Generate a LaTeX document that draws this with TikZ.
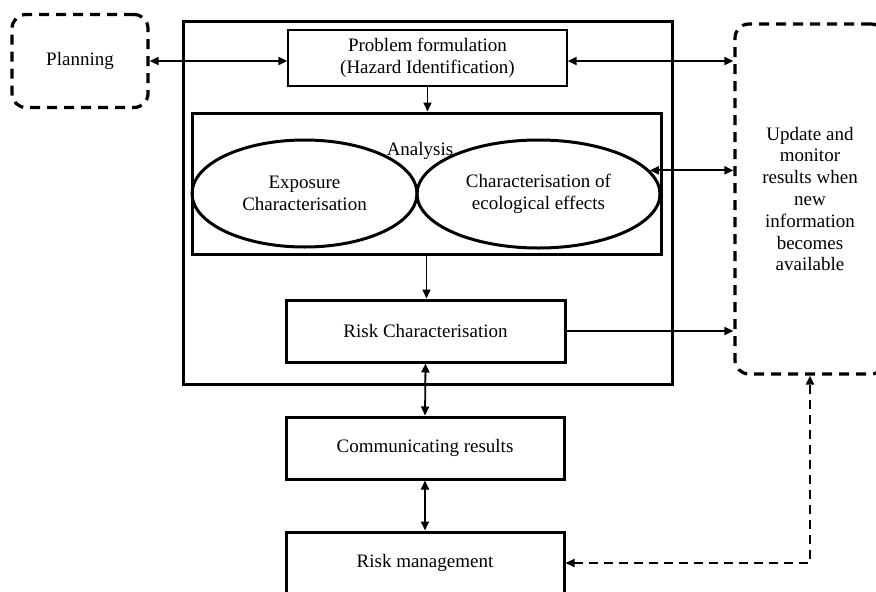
\documentclass[tikz,border=0pt]{standalone}
\usepackage{fontspec}
\setmainfont{Liberation Serif}
\usetikzlibrary{arrows.meta}
\usetikzlibrary{shapes.geometric}

\begin{document}
\begin{tikzpicture}[x=1pt,y=-1pt,
	font=\fontsize{19}{21.8}\selectfont,
	>={Triangle[length=9pt,width=8pt]},
	boxthick/.style={draw,line width=3pt,inner sep=0pt,minimum width=278,minimum height=62,align=center},
	boxthin/.style={draw,line width=1.2pt,inner sep=0pt,minimum width=279,minimum height=56,align=center},
	boxdash/.style={draw,line width=3.2pt,dash pattern=on 10pt off 7pt,rounded corners=14pt,inner sep=0pt,align=center},
	blob/.style={draw,ellipse,line width=3pt,inner sep=0pt,align=center},
	link/.style={line width=1.8pt},
	linkdash/.style={line width=2pt,dash pattern=on 9pt off 6pt}]
		\clip (0,0) rectangle (876,592);
		\node[boxdash,minimum width=136,minimum height=93] (plan) at (80,61) {Planning};
		\node[boxthick,minimum width=489,minimum height=363] (frame) at (427.5,202.5) {};
		\node[boxthin] (prob) at (427.5,58) {Problem formulation\\(Hazard Identification)};
		\node[boxthick,minimum width=469,minimum height=141] (ana) at (426.5,183.5) {};
		\node[blob,minimum width=225,minimum height=107] (expo) at (304.5,193.5) {Exposure\\Characterisation};
		\node[blob,minimum width=243,minimum height=108] (eco) at (538.5,194) {Characterisation of\\ecological effects};
		\node (analab) at (420,151) {Analysis};
		\node[boxdash,minimum width=150,minimum height=350] (upd) at (810,199) {Update and\\monitor\\results when\\new\\information\\becomes\\available};
		\node[boxthick,minimum width=279] (riskc) at (425.5,331) {Risk Characterisation};
		\node[boxthick] (comm) at (425,448) {Communicating results};
		\node[boxthick] (mgmt) at (425,563) {Risk management};
		\draw[link,<->] (plan.east) -- (plan.east -| prob.west);
		\draw[link,<->] (prob.east |- plan.east) -- (upd.west |- plan.east);
		\draw[link,->] (prob.south) -- (prob.south |- ana.north);
		\draw[link,<->] (eco.12) -- (eco.12 -| upd.west);
		\draw[link,->] (ana.south) -- (ana.south |- riskc.north);
		\draw[link,->] (riskc.east) -- (riskc.east -| upd.west);
		\draw[link,<->] (riskc.south) -- (comm.north);
		\draw[link,<->] (comm.south) -- (mgmt.north);
		\draw[linkdash,<->] (mgmt.east) -| (upd.south);
	\end{tikzpicture}
\end{document}
